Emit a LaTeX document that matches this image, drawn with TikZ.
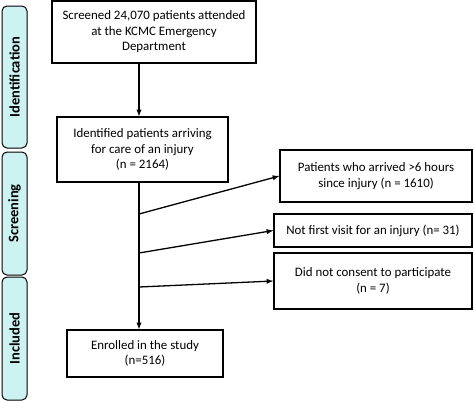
\documentclass[tikz,border=0pt]{standalone}
\usepackage{fontspec}
\setmainfont{Carlito}
\usepackage{tikz}
\usepackage{xcolor}
\usetikzlibrary{arrows}

\definecolor{tabcyan}{RGB}{204,242,242}
\tikzset{
  box/.style={draw, line width=1.3pt, align=center, inner sep=2pt,
    font=\fontsize{12.9}{15.5}\selectfont},
  stage/.style={draw, line width=1pt, fill=tabcyan, rounded corners=5pt,
    rotate=90, minimum height=25pt, font=\bfseries\fontsize{14.5}{16}\selectfont},
  arr/.style={-latex, line width=1.3pt}
}

\begin{document}
\begin{tikzpicture}[x=1pt, y=-1pt]
    \useasboundingbox (0,0) rectangle (474,402);
    % stage tabs on the left
    \node[stage, minimum width=142pt] (ident) at (14.5,77) {Identification};
    \node[stage, minimum width=123pt] (screen) at (14.5,213.5) {Screening};
    \node[stage, minimum width=123pt] (incl) at (14.5,338.5) {Included};

    % main flow
    \node[box, minimum width=204pt, minimum height=62pt] (screened) at (154,32)
        {Screened 24,070 patients attended\\at the KCMC Emergency\\Department};
    \node[box, minimum width=171pt, minimum height=65pt] (identified) at (142.5,149.5)
        {Identified patients arriving\\for care of an injury\\(n = 2164)};
    \node[box, minimum width=156pt, minimum height=47pt] (enrolled) at (145,353.5)
        {Enrolled in the study\\(n=516)};

    % exclusions
    \node[box, minimum width=192pt, minimum height=52pt] (late) at (376,176)
        {Patients who arrived >6 hours\\since injury (n = 1610)};
    \node[box, minimum width=198pt, minimum height=33pt] (revisit) at (373,230.5)
        {Not first visit for an injury (n= 31)};
    \node[box, minimum width=198pt, minimum height=56pt] (noconsent) at (373,281)
        {Did not consent to participate\\(n = 7)};

    \coordinate (trunk) at (139,0);
    \coordinate (b1) at (139,214);
    \coordinate (b2) at (139,253);
    \coordinate (b3) at (139,287);

    \draw[arr] (screened.south -| trunk) -- (identified.north -| trunk);
    \draw[arr] (identified.south -| trunk) -- (enrolled.north -| trunk);
    \draw[arr] (b1) -- (late.west);
    \draw[arr] (b2) -- (revisit.west);
    \draw[arr] (b3) -- (noconsent.west);
\end{tikzpicture}
\end{document}
